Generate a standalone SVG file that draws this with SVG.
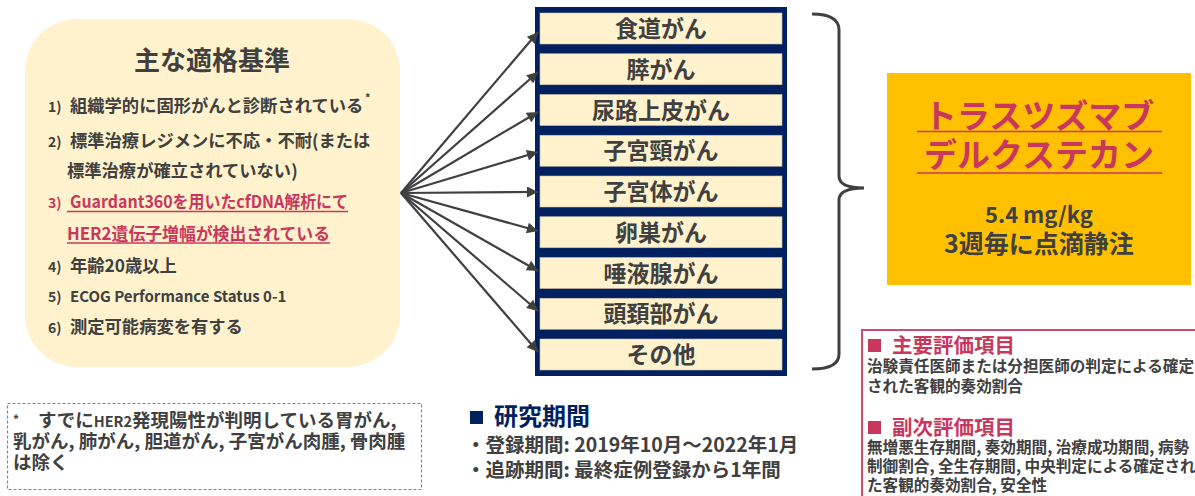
<svg xmlns="http://www.w3.org/2000/svg" width="1195" height="496" viewBox="0 0 1195 496">
<defs>
<marker id="ah" viewBox="0 0 10 10" refX="10" refY="5" markerWidth="5.5" markerHeight="5" orient="auto" markerUnits="strokeWidth">
<path d="M0,0 L10,5 L0,10 z" fill="#404040"/>
</marker>
<style>
text{font-family:"Noto Sans CJK JP","Noto Sans",sans-serif;font-weight:bold;fill:#404040}
.red{fill:#C8385E}
.navy{fill:#002060}
.cell{fill:#FFF2CC;stroke:#C9BFA0;stroke-width:0.6}
.ct{font-size:23px;text-anchor:middle}
.item{font-size:17.3px}
.num{font-size:14px}
.conn{stroke:#404040;stroke-width:2.2;fill:none;marker-end:url(#ah)}
.ul{stroke:#C8385E;stroke-width:1.5}
.body{font-size:15.6px}
</style>
</defs>
<rect width="1195" height="496" fill="#FFFFFF"/>

<g id="criteria">
<rect x="25" y="19" width="375" height="348" rx="52" fill="#FFF2CC"/>
<text x="212" y="70" font-size="26" text-anchor="middle">主な適格基準</text>
<text x="48" y="112" class="num">1)</text><text x="70" y="112" class="item">組織学的に固形がんと診断されている</text>
<text x="365" y="102" font-size="11">*</text>
<text x="48" y="147" class="num">2)</text><text x="70" y="147" class="item">標準治療レジメンに不応・不耐(または</text>
<text x="67" y="177" class="item">標準治療が確立されていない)</text>
<text x="48" y="208" class="num red">3)</text><text x="70" y="208" class="item red" textLength="278" lengthAdjust="spacingAndGlyphs">Guardant360を用いたcfDNA解析にて</text>
<line x1="67" y1="211.5" x2="348" y2="211.5" class="ul"/>
<text x="67" y="240" class="item red" textLength="263" lengthAdjust="spacingAndGlyphs">HER2遺伝子増幅が検出されている</text>
<line x1="67" y1="243" x2="330" y2="243" class="ul"/>
<text x="48" y="272" class="num">4)</text><text x="70" y="272" class="item">年齢20歳以上</text>
<text x="48" y="302" class="num">5)</text><text x="70" y="302" font-size="15">ECOG Performance Status 0-1</text>
<text x="48" y="333" class="num">6)</text><text x="70" y="333" class="item">測定可能病変を有する</text>
</g>

<g id="cancer-types">
<rect x="535" y="7" width="252" height="369" fill="#002060"/>
<g id="c1"><rect x="540" y="13" width="242" height="31" class="cell"/><text x="661" y="37" class="ct">食道がん</text></g>
<g id="c2"><rect x="540" y="53.75" width="242" height="31" class="cell"/><text x="661" y="77.75" class="ct">膵がん</text></g>
<g id="c3"><rect x="540" y="94.5" width="242" height="31" class="cell"/><text x="661" y="118.5" class="ct">尿路上皮がん</text></g>
<g id="c4"><rect x="540" y="135.25" width="242" height="31" class="cell"/><text x="661" y="159.25" class="ct">子宮頸がん</text></g>
<g id="c5"><rect x="540" y="176" width="242" height="31" class="cell"/><text x="661" y="200" class="ct">子宮体がん</text></g>
<g id="c6"><rect x="540" y="216.75" width="242" height="31" class="cell"/><text x="661" y="240.75" class="ct">卵巣がん</text></g>
<g id="c7"><rect x="540" y="257.5" width="242" height="31" class="cell"/><text x="661" y="281.5" class="ct">唾液腺がん</text></g>
<g id="c8"><rect x="540" y="298.25" width="242" height="31" class="cell"/><text x="661" y="322.25" class="ct">頭頚部がん</text></g>
<g id="c9"><rect x="540" y="339" width="242" height="31" class="cell"/><text x="661" y="363" class="ct">その他</text></g>
</g>

<g id="connectors">
<line x1="401" y1="193" x2="538" y2="32" class="conn"/>
<line x1="401" y1="193" x2="538" y2="72" class="conn"/>
<line x1="401" y1="193" x2="538" y2="112" class="conn"/>
<line x1="401" y1="193" x2="538" y2="152" class="conn"/>
<line x1="401" y1="193" x2="538" y2="192" class="conn"/>
<line x1="401" y1="193" x2="538" y2="231" class="conn"/>
<line x1="401" y1="193" x2="538" y2="271" class="conn"/>
<line x1="401" y1="193" x2="538" y2="311" class="conn"/>
<line x1="401" y1="193" x2="538" y2="352" class="conn"/>
<path d="M812,14 Q839,14 839,30 L839,176 Q839,188 864,188 Q839,188 839,200 L839,354 Q839,369 812,369" fill="none" stroke="#404040" stroke-width="3"/>
</g>

<g id="drug">
<rect x="887" y="73" width="304" height="212" fill="#FFC000"/>
<text x="1039" y="128" font-size="33" text-anchor="middle" class="red">トラスツズマブ</text>
<line x1="917" y1="131.5" x2="1162" y2="131.5" class="ul" stroke-width="2"/>
<text x="1039" y="167" font-size="33" text-anchor="middle" class="red">デルクステカン</text>
<line x1="917" y1="173" x2="1162" y2="173" class="ul" stroke-width="2"/>
<text x="1039" y="223" font-size="22" text-anchor="middle">5.4 mg/kg</text>
<text x="1039" y="253" font-size="25" text-anchor="middle">3週毎に点滴静注</text>
</g>

<g id="endpoints">
<rect x="862" y="330" width="345" height="175" fill="#FFFFFF" stroke="#D04A6E" stroke-width="2"/>
<rect x="868" y="339" width="13" height="13" fill="#C8385E"/>
<text x="892" y="353" font-size="20.5" class="red">主要評価項目</text>
<text x="867" y="372" class="body">治験責任医師または分担医師の判定による確定</text>
<text x="867" y="392" class="body">された客観的奏効割合</text>
<rect x="868" y="421" width="13" height="13" fill="#C8385E"/>
<text x="892" y="435" font-size="20.5" class="red">副次評価項目</text>
<text x="867" y="453" class="body">無増悪生存期間, 奏効期間, 治療成功期間, 病勢</text>
<text x="867" y="472" class="body">制御割合, 全生存期間, 中央判定による確定され</text>
<text x="867" y="491" class="body">た客観的奏効割合, 安全性</text>
</g>

<g id="period">
<rect x="470" y="411" width="13" height="13" fill="#002060"/>
<text x="494" y="425" font-size="24" class="navy">研究期間</text>
<text x="466" y="452" font-size="19.5">・登録期間: 2019年10月～2022年1月</text>
<text x="466" y="477" font-size="19.5">・追跡期間: 最終症例登録から1年間</text>
</g>

<g id="footnote">
<rect x="7.5" y="403.5" width="414" height="86" fill="none" stroke="#6B8FA0" stroke-width="1.2" stroke-dasharray="3 2"/>
<text x="13" y="427" font-size="18.5"><tspan font-size="12" dy="-3">*</tspan><tspan x="38" dy="3">すでに</tspan><tspan font-size="14.5">HER2</tspan>発現陽性が判明している胃がん,</text>
<text x="13" y="448" font-size="18.5">乳がん, 肺がん, 胆道がん, 子宮がん肉腫, 骨肉腫</text>
<text x="13" y="469" font-size="18.5">は除く</text>
</g>
</svg>
